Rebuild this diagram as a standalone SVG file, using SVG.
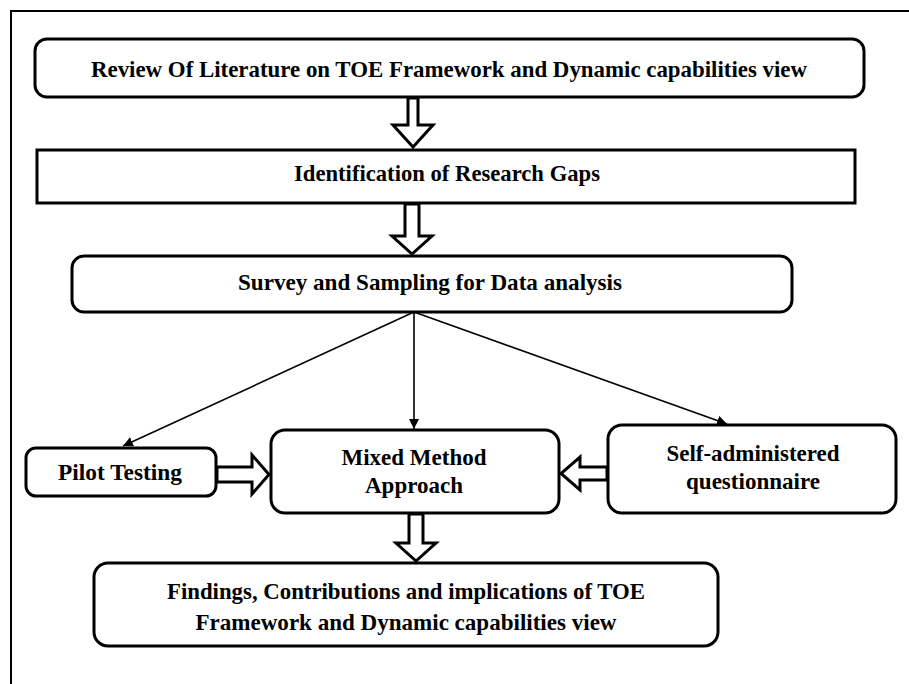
<svg xmlns="http://www.w3.org/2000/svg" width="909" height="684" viewBox="0 0 909 684">
<defs>
<style>
.box{fill:#fff;stroke:#000;stroke-width:3}
.t{font-family:"Liberation Serif","Times New Roman",serif;font-weight:bold;font-size:24px;fill:#000;text-anchor:middle}
.ha{fill:#fff;stroke:#000;stroke-width:3;stroke-linejoin:miter}
.ln{stroke:#000;stroke-width:1.6;fill:none}
</style>
<marker id="ah" viewBox="0 0 10 10" refX="10" refY="5" markerWidth="10" markerHeight="10" markerUnits="userSpaceOnUse" orient="auto">
<path d="M0,0 L10,5 L0,10 Z" fill="#000"/>
</marker>
</defs>
<rect width="909" height="684" fill="#fff"/>
<path d="M11,684 V11 H909" fill="none" stroke="#000" stroke-width="2"/>

<g id="review">
<rect class="box" x="35" y="39" width="829" height="58" rx="12"/>
<text class="t" x="449" y="77" textLength="716" lengthAdjust="spacingAndGlyphs">Review Of Literature on TOE Framework and Dynamic capabilities view</text>
</g>
<g id="gaps">
<rect class="box" x="37" y="150" width="818" height="53"/>
<text class="t" x="447" y="181" textLength="306" lengthAdjust="spacingAndGlyphs">Identification of Research Gaps</text>
</g>
<g id="survey">
<rect class="box" x="72" y="256" width="720" height="56" rx="12"/>
<text class="t" x="430" y="290" textLength="384" lengthAdjust="spacingAndGlyphs">Survey and Sampling for Data analysis</text>
</g>
<g id="pilot">
<rect class="box" x="26" y="448" width="190" height="48" rx="10"/>
<text class="t" x="120" y="480" textLength="124" lengthAdjust="spacingAndGlyphs">Pilot Testing</text>
</g>
<g id="mixed">
<rect class="box" x="271" y="430" width="288" height="83" rx="14"/>
<text class="t" x="414" y="465" textLength="145" lengthAdjust="spacingAndGlyphs">Mixed Method</text>
<text class="t" x="414" y="493" textLength="98" lengthAdjust="spacingAndGlyphs">Approach</text>
</g>
<g id="self">
<rect class="box" x="608" y="425" width="288" height="88" rx="14"/>
<text class="t" x="753" y="461" textLength="173" lengthAdjust="spacingAndGlyphs">Self-administered</text>
<text class="t" x="753" y="489" textLength="134" lengthAdjust="spacingAndGlyphs">questionnaire</text>
</g>
<g id="findings">
<rect class="box" x="94" y="563" width="624" height="83" rx="14"/>
<text class="t" x="406" y="599" textLength="478" lengthAdjust="spacingAndGlyphs">Findings, Contributions and implications of TOE</text>
<text class="t" x="406" y="630" textLength="421" lengthAdjust="spacingAndGlyphs">Framework and Dynamic capabilities view</text>
</g>

<g id="connectors">
<path class="ha" d="M408,98 H418 V125 H433 L413,147 L393,125 H408 Z"/>
<path class="ha" d="M405,204 H419 V236 H432 L412,254 L392,236 H405 Z"/>
<path class="ha" d="M409,514 H423 V543 H436 L416,561 L396,543 H409 Z"/>
<path class="ha" d="M217,467 H252 V455 L269,474.5 L252,494 V482 H217 Z"/>
<path class="ha" d="M607,467 H580 V457 L561,473.5 L580,490 V480 H607 Z"/>
<line class="ln" x1="414" y1="312" x2="123" y2="446" marker-end="url(#ah)"/>
<line class="ln" x1="414" y1="312" x2="414" y2="429" marker-end="url(#ah)"/>
<line class="ln" x1="414" y1="312" x2="727" y2="424" marker-end="url(#ah)"/>
</g>
</svg>
